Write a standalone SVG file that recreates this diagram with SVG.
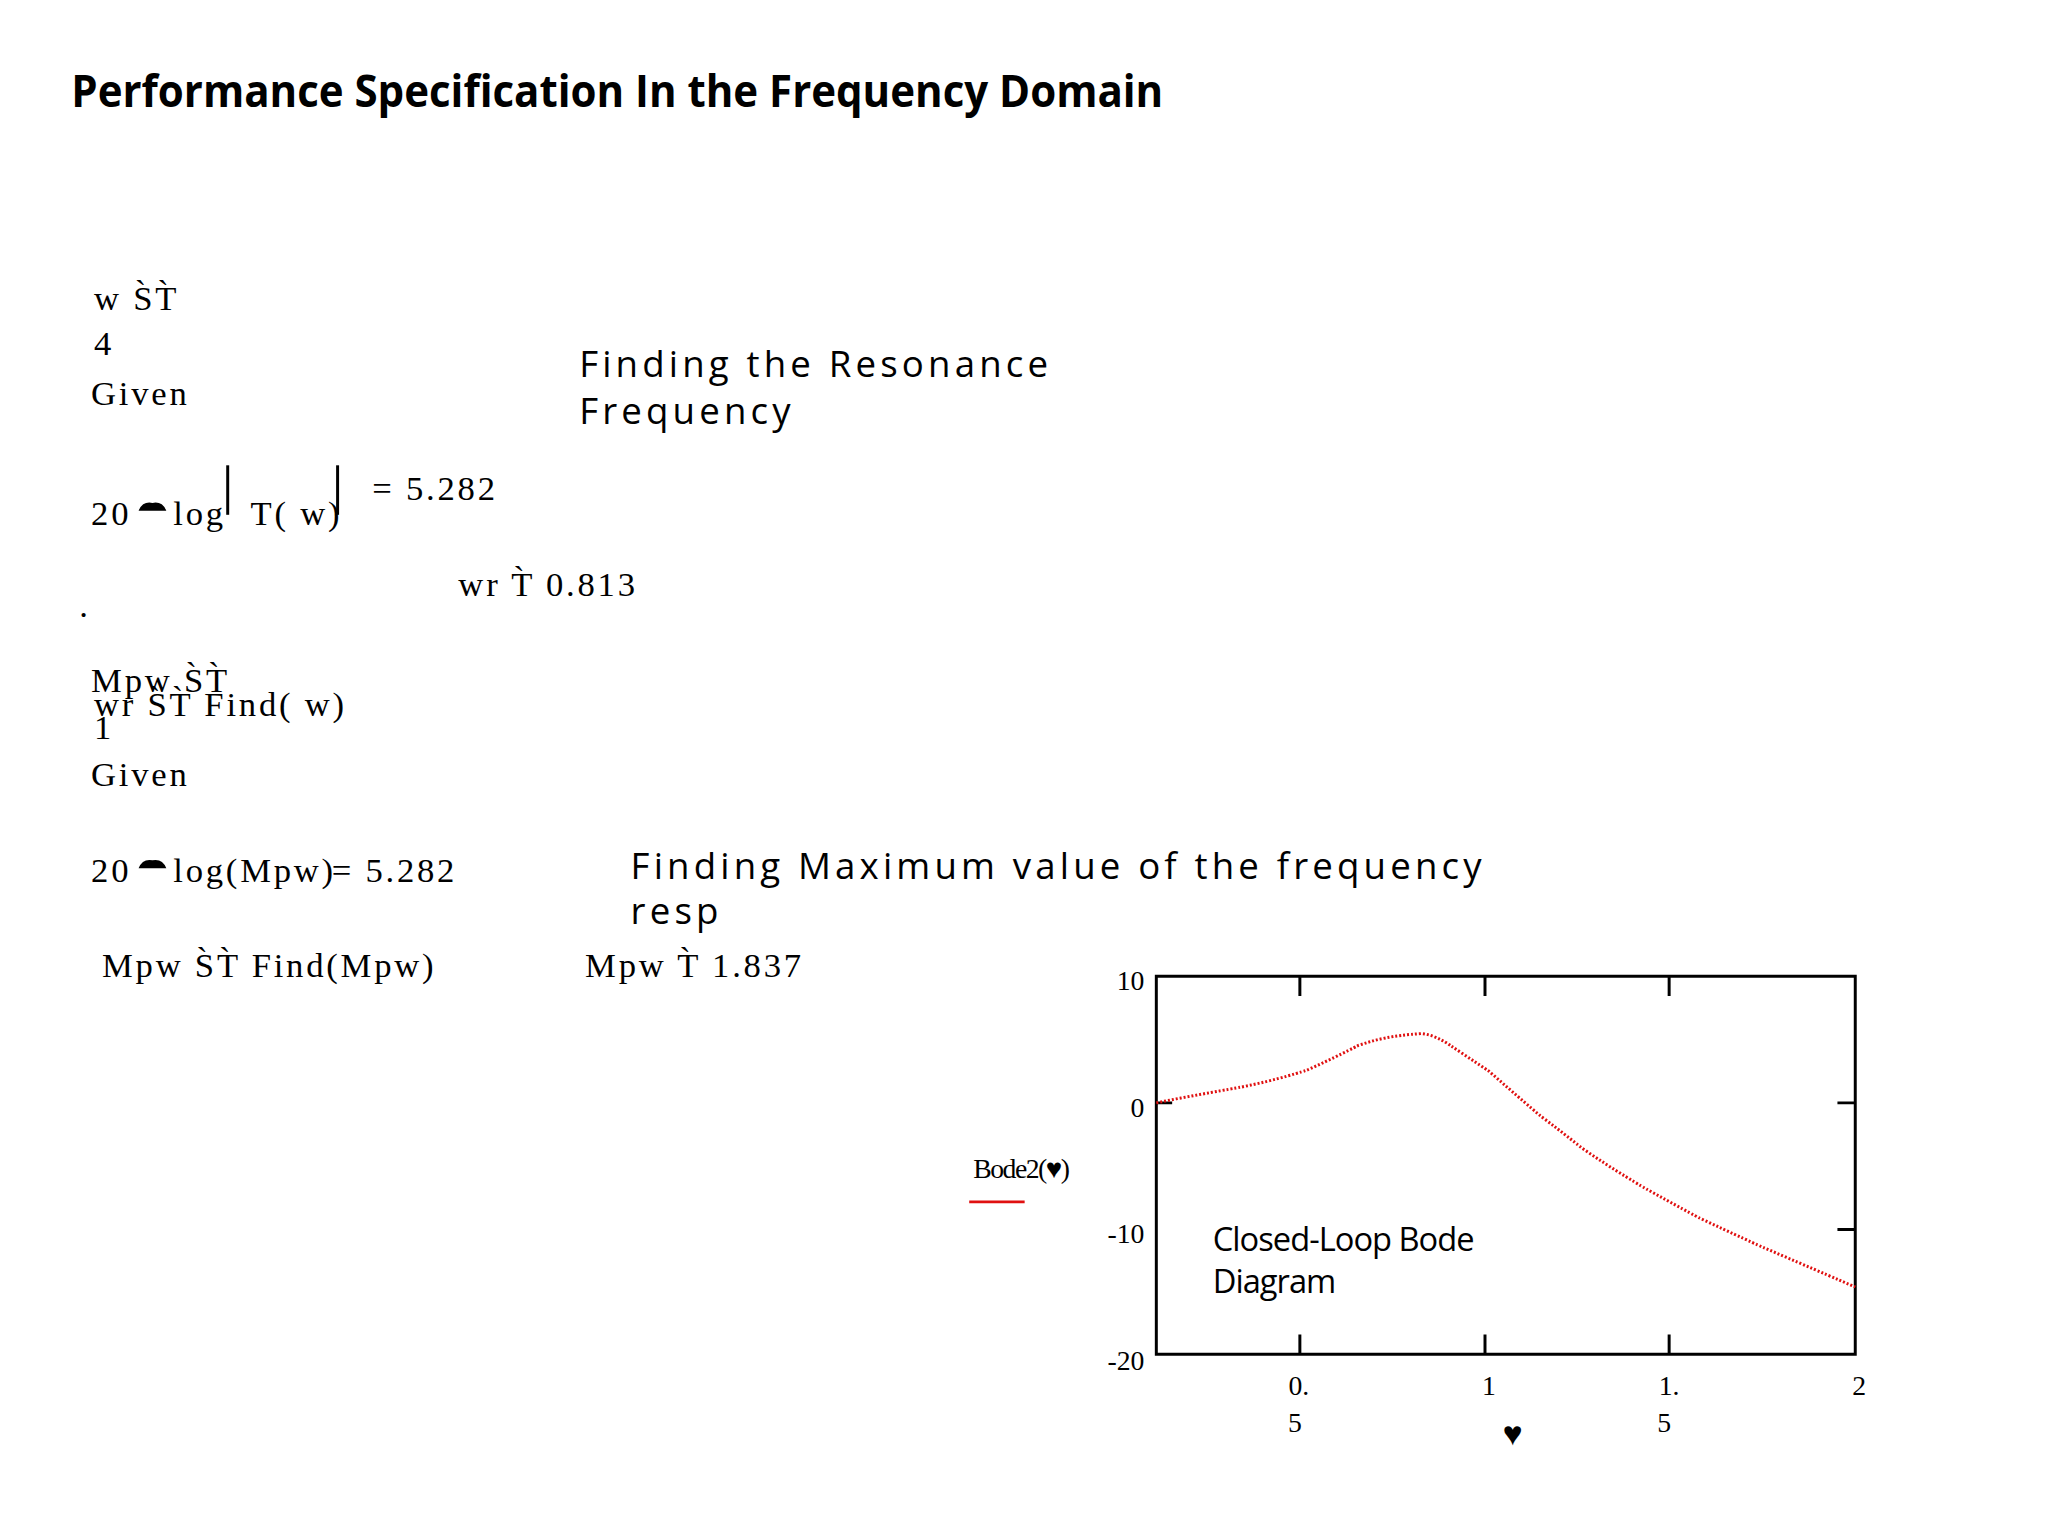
<svg xmlns="http://www.w3.org/2000/svg" width="2048" height="1536" viewBox="0 0 2048 1536">
<style>
.t{font-family:"Liberation Serif",serif;font-size:35px;fill:#000;letter-spacing:2.8px}
.s{font-family:"Open Sans","DejaVu Sans",sans-serif;font-size:37px;fill:#000;letter-spacing:4.2px}
.a{font-family:"Liberation Serif",serif;font-size:28px;fill:#000}
.ax{stroke:#000;stroke-width:3;fill:none}
</style>
<rect width="2048" height="1536" fill="#fff"/>
<g transform="scale(0.99)">
<text x="72" y="108" font-family="'Open Sans','Liberation Sans',sans-serif" font-weight="bold" font-size="45" textLength="1103" lengthAdjust="spacingAndGlyphs">Performance Specification In the Frequency Domain</text>
<g id="math">
<text class="t" x="95" y="313">w S̀T̀</text>
<text class="t" x="95" y="359">4</text>
<text class="t" x="92" y="409">Given</text>
<text class="t" x="92" y="530">20</text>
<path d="M140 516 q4 -10 14 -8 q10 -2 14 8 z" fill="#000"/>
<text class="t" x="175" y="530">log</text>
<line x1="230" y1="470" x2="230" y2="520" stroke="#000" stroke-width="3"/>
<text class="t" x="253" y="530">T( w)</text>
<line x1="341" y1="470" x2="341" y2="520" stroke="#000" stroke-width="3"/>
<text class="t" x="376" y="505">= 5.282</text>
<text class="t" x="463" y="602">wr T̀ 0.813</text>
<text class="t" x="80" y="623">.</text>
<text class="t" x="92" y="699">Mpw S̀T̀</text>
<text class="t" x="95" y="723">wr S̀T̀ Find( w)</text>
<text class="t" x="95" y="746">1</text>
<text class="t" x="92" y="794">Given</text>
<text class="t" x="92" y="891">20</text>
<path d="M140 877 q4 -10 14 -8 q10 -2 14 8 z" fill="#000"/>
<text class="t" x="175" y="891">log(Mpw)</text>
<text class="t" x="335" y="891">= 5.282</text>
<text class="t" x="103" y="987">Mpw S̀T̀ Find(Mpw)</text>
<text class="t" x="591" y="987">Mpw T̀ 1.837</text>
</g>
<g id="notes">
<text class="s" x="585" y="381">Finding the Resonance</text>
<text class="s" x="585" y="428">Frequency</text>
<text class="s" x="637" y="888">Finding Maximum value of the frequency</text>
<text class="s" x="637" y="933">resp</text>
</g>
<g id="chart">
<path class="ax" d="M1168 986 H1874 V1368 H1168 Z"/>
<path class="ax" d="M1313 986 v20 M1500 986 v20 M1686 986 v20 M1313 1368 v-20 M1500 1368 v-20 M1686 1368 v-20 M1874 1114 h-18 M1874 1242 h-18 M1168 1114 h16"/>
<path d="M1168 1114 L1188 1110 C1220 1104 1254 1098 1254 1098 C1290 1091 1320 1081 1320 1081 C1345 1070 1372 1056 1372 1056 C1390 1050 1405 1046 1436 1044 C1450 1045 1465 1056 1465 1056 C1480 1066 1504 1082 1504 1082 C1530 1105 1557 1128 1557 1128 C1580 1145 1597 1159 1597 1159 C1630 1182 1663 1201 1663 1201 C1690 1216 1716 1230 1716 1230 C1750 1246 1781 1260 1781 1260 C1830 1281 1874 1300 1874 1300" fill="none" stroke="#e01010" stroke-width="3" stroke-dasharray="2 2"/>
<g class="a" text-anchor="end">
<text x="1156" y="1000">10</text>
<text x="1156" y="1128">0</text>
<text x="1156" y="1256">-10</text>
<text x="1156" y="1384">-20</text>
</g>
<g class="a" text-anchor="middle">
<text x="1312" y="1409">0.</text>
<text x="1308" y="1446">5</text>
<text x="1504" y="1409">1</text>
<text x="1686" y="1409">1.</text>
<text x="1681" y="1446">5</text>
<text x="1878" y="1409">2</text>
<text x="1528" y="1460" font-size="34">♥</text>
</g>
<text class="a" x="983" y="1190" letter-spacing="-1.5">Bode2(♥)</text>
<line x1="979" y1="1214" x2="1035" y2="1214" stroke="#e01010" stroke-width="3"/>
<text x="1225" y="1264" font-family="'Open Sans','Liberation Sans',sans-serif" font-size="33" letter-spacing="-1">Closed-Loop Bode</text>
<text x="1225" y="1306" font-family="'Open Sans','Liberation Sans',sans-serif" font-size="33" letter-spacing="-1">Diagram</text>
</g>
</g>
</svg>
